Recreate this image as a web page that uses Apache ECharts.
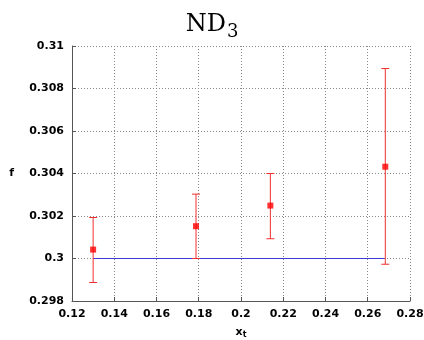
<!DOCTYPE html>
<html>
<head>
<meta charset="utf-8">
<script src="https://cdn.jsdelivr.net/npm/echarts@6/dist/echarts.min.js"></script>
<style>
html,body{margin:0;padding:0;background:#fff;}
#chart{width:424px;height:340px;}
</style>
</head>
<body>
<div id="chart"></div>
<script>
// data
var xs = [0.1300, 0.1787, 0.2139, 0.2683];
var fs = [0.30042, 0.30152, 0.30249, 0.30432];
var fLow = [0.29887, 0.30000, 0.30093, 0.29973];
var fHigh = [0.30193, 0.30303, 0.30400, 0.30894];
var refLineX = [0.130, 0.268];
var refLineY = 0.3;

var dom = document.getElementById('chart');
var myChart = echarts.init(dom);

var pts = [], bars = [];
for (var i = 0; i < xs.length; i++) {
	pts.push([xs[i], fs[i]]);
	bars.push([xs[i], fLow[i], fHigh[i]]);
}

var option = {
	animation: false,
	title: {
		text: '{a|ND}{b|3}',
		left: 'center',
		top: 4,
		textStyle: {
			rich: {
				a: {fontFamily: 'DejaVu Serif', fontWeight: 'normal', fontSize: 24, color: '#000'},
				b: {fontFamily: 'DejaVu Serif', fontWeight: 'normal', fontSize: 18, color: '#000', padding: [14, 0, 0, 1]}
			}
		}
	},
	grid: {left: 72, right: 14, top: 46, bottom: 39, outerBoundsMode: 'none'},
	xAxis: {
		type: 'value', min: 0.12, max: 0.28, interval: 0.02,
		name: '{a|x}{b|t}', nameLocation: 'middle', nameGap: 24,
		nameTextStyle: {rich: {
			a: {fontFamily: 'DejaVu Sans', fontWeight: 'bold', fontSize: 11, color: '#000'},
			b: {fontFamily: 'DejaVu Sans', fontWeight: 'bold', fontSize: 8, color: '#000', padding: [6, 0, 0, 0]}
		}},
		axisLine: {lineStyle: {color: '#555', width: 1}},
		axisTick: {show: true, inside: true, length: 4, lineStyle: {color: '#555'}},
		axisLabel: {fontFamily: 'DejaVu Sans', fontWeight: 'bold', fontSize: 11, color: '#000', margin: 8,
			formatter: function (v) { return +v.toFixed(2) + ''; }},
		splitLine: {show: true, lineStyle: {color: '#888', type: [1, 2], width: 1}}
	},
	yAxis: {
		type: 'value', min: 0.298, max: 0.31, interval: 0.002,
		name: 'f', nameLocation: 'middle', nameGap: 58,
		nameTextStyle: {fontFamily: 'DejaVu Sans', fontWeight: 'bold', fontSize: 11, color: '#000'},
		nameRotate: 0,
		axisLine: {show: true, lineStyle: {color: '#555', width: 1}},
		axisTick: {show: true, inside: true, length: 4, lineStyle: {color: '#555'}},
		axisLabel: {fontFamily: 'DejaVu Sans', fontWeight: 'bold', fontSize: 11, color: '#000', margin: 8,
			formatter: function (v) { return +v.toFixed(3) + ''; }},
		splitLine: {show: true, lineStyle: {color: '#888', type: [1, 2], width: 1}}
	},
	series: [
		{
			type: 'line',
			data: [[refLineX[0], refLineY], [refLineX[1], refLineY]],
			symbol: 'none',
			lineStyle: {color: '#3b3bd9', width: 1},
			z: 2
		},
		{
			type: 'custom',
			data: bars,
			renderItem: function (params, api) {
				var x = api.value(0);
				var lo = api.coord([x, api.value(1)]);
				var hi = api.coord([x, api.value(2)]);
				var w = 4;
				var st = {stroke: '#f03030', lineWidth: 1};
				return {
					type: 'group',
					children: [
						{type: 'line', shape: {x1: lo[0], y1: lo[1], x2: hi[0], y2: hi[1]}, style: st},
						{type: 'line', shape: {x1: lo[0] - w, y1: lo[1], x2: lo[0] + w, y2: lo[1]}, style: st},
						{type: 'line', shape: {x1: hi[0] - w, y1: hi[1], x2: hi[0] + w, y2: hi[1]}, style: st}
					]
				};
			},
			z: 3
		},
		{
			type: 'scatter',
			data: pts,
			symbol: 'rect',
			symbolSize: 6,
			itemStyle: {color: '#ff0000'},
			z: 4
		}
	]
};
myChart.setOption(option, true);
</script>
</body>
</html>
